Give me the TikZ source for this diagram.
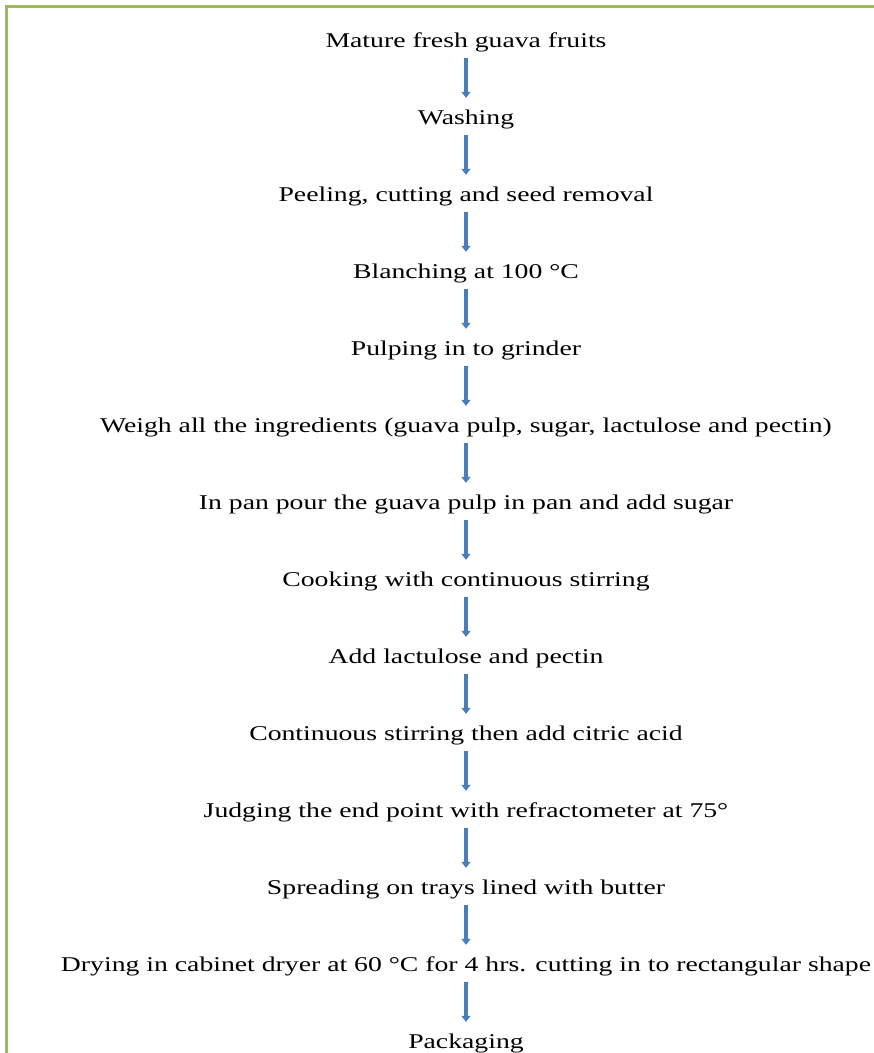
\documentclass[tikz,border=0pt]{standalone}
\usepackage{fontspec}
\setmainfont{Liberation Serif}
\usetikzlibrary{arrows.meta}
\definecolor{arrowblue}{HTML}{4A7EBB}
\definecolor{framegreen}{HTML}{9BBB59}
\newcommand{\widetext}[1]{\scalebox{1.32}[1]{#1}}
\begin{document}
\begin{tikzpicture}[x=1pt,y=-1pt,
  stepnode/.style={inner xsep=0pt,inner ysep=3pt,text height=15pt,text depth=5pt,font=\fontsize{21}{24}\selectfont},
  flow/.style={draw=arrowblue,line width=4pt,-{Triangle[width=9pt,length=6pt]},shorten <=3pt,shorten >=8pt}]
\useasboundingbox (0,0) rectangle (874,1053);
\begin{scope}
\clip (0,0) rectangle (874,1053);
\draw[framegreen,line width=3pt] (6,6) rectangle (900,1100);
\end{scope}
\node[stepnode] (n1) at (466,42) {\widetext{Mature fresh guava fruits}};
\node[stepnode] (n2) at (466,119) {\widetext{Washing}};
\node[stepnode] (n3) at (466,196) {\widetext{Peeling, cutting and seed removal}};
\node[stepnode] (n4) at (466,273) {\widetext{Blanching at 100 °C}};
\node[stepnode] (n5) at (466,350) {\widetext{Pulping in to grinder}};
\node[stepnode] (n6) at (466,427) {\widetext{Weigh all the ingredients (guava pulp, sugar, lactulose and pectin)}};
\node[stepnode] (n7) at (466,504) {\widetext{In pan pour the guava pulp in pan and add sugar}};
\node[stepnode] (n8) at (466,581) {\widetext{Cooking with continuous stirring}};
\node[stepnode] (n9) at (466,658) {\widetext{Add lactulose and pectin}};
\node[stepnode] (n10) at (466,735) {\widetext{Continuous stirring then add citric acid}};
\node[stepnode] (n11) at (466,812) {\widetext{Judging the end point with refractometer at 75°}};
\node[stepnode] (n12) at (466,889) {\widetext{Spreading on trays lined with butter}};
\node[stepnode] (n13) at (466,966) {\widetext{Drying in cabinet dryer at 60 °C for 4 hrs. cutting in to rectangular shape}};
\node[stepnode] (n14) at (466,1043) {\widetext{Packaging}};
\foreach \a/\b in {1/2,2/3,3/4,4/5,5/6,6/7,7/8,8/9,9/10,10/11,11/12,12/13,13/14}
  \draw[flow] (n\a.south) -- (n\b.north);
\end{tikzpicture}
\end{document}
